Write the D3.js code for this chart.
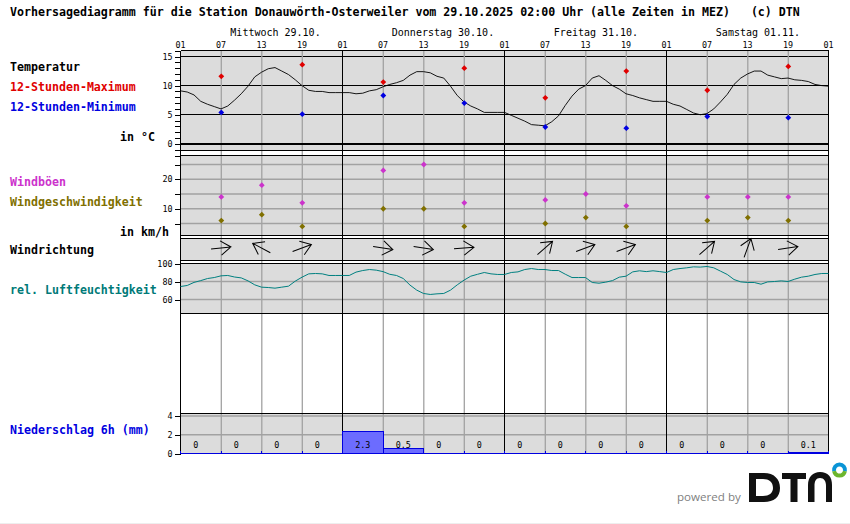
<!DOCTYPE html>
<html><head><meta charset="utf-8">
<script src="https://cdnjs.cloudflare.com/ajax/libs/d3/7.8.5/d3.min.js"></script>
<style>
html,body{margin:0;padding:0;background:#fff;overflow:hidden}
svg{display:block}
text{font-family:"DejaVu Sans Mono","Liberation Mono",monospace}
.b{font-weight:bold;font-size:11.62px}
.s{font-size:10px}
.t{font-size:8.4px}
</style></head><body><svg id="c" width="850" height="524"></svg>
<script>
const title="Vorhersagediagramm für die Station Donauwörth-Osterweiler vom 29.10.2025 02:00 Uhr (alle Zeiten in MEZ)   (c) DTN";
const days=["Mittwoch 29.10.","Donnerstag 30.10.","Freitag 31.10.","Samstag 01.11."];
const hourLabels=["01","07","13","19","01","07","13","19","01","07","13","19","01","07","13","19","01"];
const temperature=[9.1,8.9,8.4,7.3,6.8,6.4,6.0,6.5,7.5,8.6,9.9,11.5,12.3,12.9,13.1,12.5,11.9,11.0,10.0,9.2,9.0,9.0,8.8,8.8,8.8,8.8,8.6,8.7,9.1,9.3,9.8,10.2,10.5,10.9,11.8,12.4,12.4,12.2,11.6,11.3,9.9,8.3,7.2,6.5,6.0,5.4,5.4,5.4,5.4,4.9,4.4,3.9,3.3,3.2,3.1,3.8,4.8,6.6,8.2,9.4,10.0,11.3,11.7,10.9,10.0,9.4,8.6,8.3,7.9,7.6,7.3,7.3,7.3,6.8,6.5,5.9,5.3,5.0,5.2,6.0,7.2,8.5,10.2,11.3,12.0,12.5,12.5,11.8,11.5,11.2,11.3,11.0,10.9,10.7,10.2,10.0,9.9];
const humidity=[74.4,75.6,79,81,83.3,84.4,86.3,86.7,85,84,80.7,76.3,73.7,73.3,72.6,73.7,74.8,80.4,84.8,88.5,88.9,88.5,86.7,86.7,86.7,86.7,90.4,92.2,93.3,92.6,91,88,86.7,83.3,76,70.4,66.7,65.6,66.3,66.7,70.4,76.3,81.5,85.9,88,90,88.5,87.8,87.8,90,90.7,93.3,94.4,93.3,93.3,92.2,92.2,88.1,84.4,84.4,84.4,78.9,78.1,79.3,81,84.8,85.9,90.7,91.9,91,91.9,91,90,93.3,94.4,95.2,96.3,96,96.7,95.2,91.5,87.8,82.2,79.6,78.9,78.9,77,79.6,80,80.7,80,82.6,84.8,85.9,87.8,88.9,88.9];
const extremeHours=[6,18,30,42,54,66,78,90];
const maxTemp=[11.6,13.6,10.6,13.0,7.9,12.5,9.2,13.3];
const minTemp=[5.4,5.1,8.3,7.0,2.9,2.7,4.7,4.5];
const windHours=[6,12,18,30,36,42,54,60,66,78,84,90];
const gusts=[14,18,12,23,25,12,13,15,11,14,14,14];
const speed=[6,8,4,10,10,4,5,7,4,6,7,6];
const bearing=[84,298,70,99,99,86,49,70,70,49,20,82];
const precip=["0","0","0","0","2.3","0.5","0","0","0","0","0","0","0","0","0","0.1"];
const legend=[["Temperatur","#000",10,71],["12-Stunden-Maximum","#e00000",10,91],["12-Stunden-Minimum","#0000e0",10,111],["in °C","#000",120,141],["Windböen","#cc33cc",10,186],["Windgeschwindigkeit","#807000",10,206],["in km/h","#000",120,236],["Windrichtung","#000",10,254],["rel. Luftfeuchtigkeit","#007a78",10,294],["Niederschlag 6h (mm)","#0000e0",10,434]];

const svg=d3.select("#c");
const x=d3.scaleLinear().domain([0,96]).range([180.5,828.5]);
const yT=d3.scaleLinear().domain([-2,15]).range([155.5,56.5]);
const yW=d3.scaleLinear().domain([5,25]).range([223.5,164.5]);
const yH=d3.scaleLinear().domain([60,100]).range([299.5,263.5]);
const yP=d3.scaleLinear().domain([0,4]).range([453.5,416]);
const GREY="#dcdcdc",GRID="#a2a2a2";
const crisp=s=>s.attr("shape-rendering","crispEdges");
const panel=(y0,y1)=>crisp(svg.append("rect").attr("x",x(0)).attr("y",y0).attr("width",x(96)-x(0)).attr("height",y1-y0).attr("fill",GREY));
const hline=(y,c,w)=>crisp(svg.append("line").attr("x1",x(0)).attr("x2",x(96)).attr("y1",y).attr("y2",y).attr("stroke",c).attr("stroke-width",w||1));
const gridH=y=>svg.append("line").attr("x1",x(0)).attr("x2",x(96)).attr("y1",y).attr("y2",y).attr("stroke",GRID).attr("stroke-width",1.3);
const hrs=d3.range(0,97,6);

// text
svg.append("text").attr("class","b").attr("x",10).attr("y",16).attr("xml:space","preserve").style("white-space","pre").text(title);
svg.selectAll(".d").data(days).join("text").attr("class","s").attr("text-anchor","middle")
  .attr("x",(d,i)=>[275.5,443,596,758][i]).attr("y",36).text(d=>d);
svg.selectAll(".h").data(hourLabels).join("text").attr("class","t").attr("text-anchor","middle")
  .attr("x",(d,i)=>x(i*6)).attr("y",48).text(d=>d);
svg.selectAll(".l").data(legend).join("text").attr("class","b").attr("fill",d=>d[1]).attr("x",d=>d[2]).attr("y",d=>d[3]).text(d=>d[0]);

// panels
panel(50.5,150.5);panel(155.5,235.5);panel(238.5,260.5);panel(263.5,313.5);panel(413.5,453.5);

// horizontal grid
[15,10,5].forEach(v=>hline(yT(v),"#000"));
[25,20,15,10,5].forEach(v=>gridH(yW(v)));
[80,60].forEach(v=>gridH(yH(v)));
[4,2].forEach(v=>gridH(yP(v)));

// vertical grid
svg.selectAll(".v").data(hrs.filter(h=>h%24!==0)).join("line")
  .attr("x1",d=>x(d)+.3).attr("x2",d=>x(d)+.3).attr("y1",50.5).attr("y2",453.5).attr("stroke",GRID).attr("stroke-width",1.3);
svg.selectAll(".k").data(hrs.filter(h=>h%24===0)).join("line").call(crisp)
  .attr("x1",d=>x(d)).attr("x2",d=>x(d)).attr("y1",50.5).attr("y2",453.5).attr("stroke","#000");

// black frame lines
[50.5,150.5,155.5,235.5,238.5,260.5,263.5,313.5,413.5].forEach(y=>hline(y,"#000"));
crisp(svg.append("line").attr("x1",x(0)).attr("x2",x(96)).attr("y1",yT(0)).attr("y2",yT(0)).attr("stroke","#000").attr("stroke-width",2));

// axes
function axis(scale,vals,labels){
  const g=svg.append("g").attr("transform",`translate(${x(0)},0)`).call(
    d3.axisLeft(scale).tickValues(vals).tickSize(6).tickPadding(2).tickFormat(v=>labels.includes(v)?v:""));
  g.select(".domain").remove();
  g.selectAll("line").call(crisp).attr("stroke","#000");
  g.selectAll("text").attr("class","t").attr("font-family",null).attr("font-size",null).attr("fill","#000");
}
axis(yT,d3.range(-2,17),[0,5,10,15]);
axis(yW,[5,10,15,20,25],[10,20]);
axis(yH,[60,80,100],[60,80,100]);
axis(yP,[0,2,4],[0,2,4]);

// temperature & humidity
const line=(s)=>d3.line().x((d,i)=>x(i)).y(d=>s(d));
svg.append("path").attr("d",line(yT)(temperature)).attr("fill","none").attr("stroke","#000").attr("stroke-width",.9);
svg.append("path").attr("d",line(yH)(humidity)).attr("fill","none").attr("stroke","#008080").attr("stroke-width",1);

// markers
function marks(hours,vals,s,c){
  svg.append("g").selectAll("path").data(vals).join("path")
    .attr("d",d3.symbol().type(d3.symbolSquare).size(17))
    .attr("fill",c).attr("transform",(d,i)=>`translate(${x(hours[i])+.3},${s(d)}) rotate(45)`);
}
marks(extremeHours,maxTemp,yT,"#e00000");
marks(extremeHours,minTemp,yT,"#0000e0");
marks(windHours,gusts,yW,"#cc33cc");
marks(windHours,speed,yW,"#807000");

// wind arrows
const arrows=svg.append("g").attr("fill","none").attr("stroke","#000");
arrows.selectAll("path").data(bearing).join("path")
  .attr("d","M0,10L0,-10M-7.2,0.2L0,-10L7.2,0.2")
  .attr("transform",(d,i)=>`translate(${x(windHours[i])},248) rotate(${d})`);

// precipitation
const bars=svg.append("g");
bars.selectAll("rect").data(precip).join("rect").call(crisp)
  .attr("x",(d,i)=>x(i*6)).attr("width",(d,i)=>x(6)-x(0))
  .attr("y",d=>yP(+d)).attr("height",d=>yP(0)-yP(+d))
  .attr("fill","#6c6cff").attr("stroke","#0000e0");
crisp(svg.append("line").attr("x1",x(0)).attr("x2",x(96)).attr("y1",453.5).attr("y2",453.5).attr("stroke","#0000e0"));
svg.selectAll(".pt").data(hrs).join("line").call(crisp).attr("x1",d=>x(d)).attr("x2",d=>x(d)).attr("y1",451).attr("y2",454).attr("stroke","#0000e0");
svg.selectAll(".pl").data(precip).join("text").attr("class","t").attr("text-anchor","middle")
  .attr("x",(d,i)=>x(i*6+3)-5+(i==4||i==5||i==15?5:0)).attr("y",448).text(d=>d);

// logo
svg.append("text").attr("x",677).attr("y",501).attr("fill","#808080").style("font-family","'Open Sans'").style("font-size","11.6px").text("powered by");
const logo=svg.append("g").attr("fill","#111");
logo.append("path").attr("fill-rule","evenodd").attr("d","M749,473H764C774,473 780,479 780,488C780,497 774,502 764,502H749ZM756,479V496H763C769,496 773,493 773,488C773,482 769,479 763,479Z");
logo.append("path").attr("d","M782,473H806V479H797.5V502H790.5V479H782Z");
logo.append("path").attr("d","M808,502V485C808,477 813,472 820,472C828,472 832,477 832,485V502H826V486C826,481 824,478 820,478C816,478 814.5,481 814.5,486V502Z");
const arc=d3.arc().innerRadius(3.5).outerRadius(7.5);
logo.append("path").attr("transform","translate(839.5,470)").attr("fill","#0a94d6").attr("d",arc({startAngle:-Math.PI/2-0.2,endAngle:Math.PI/2+0.2}));
logo.append("path").attr("transform","translate(839.5,470)").attr("fill","#6cb52d").attr("d",arc({startAngle:Math.PI/2+0.2,endAngle:Math.PI*1.5-0.2}));
crisp(svg.append("line").attr("x1",0).attr("x2",850).attr("y1",523.5).attr("y2",523.5).attr("stroke","#eeeeee"));
</script></body></html>
